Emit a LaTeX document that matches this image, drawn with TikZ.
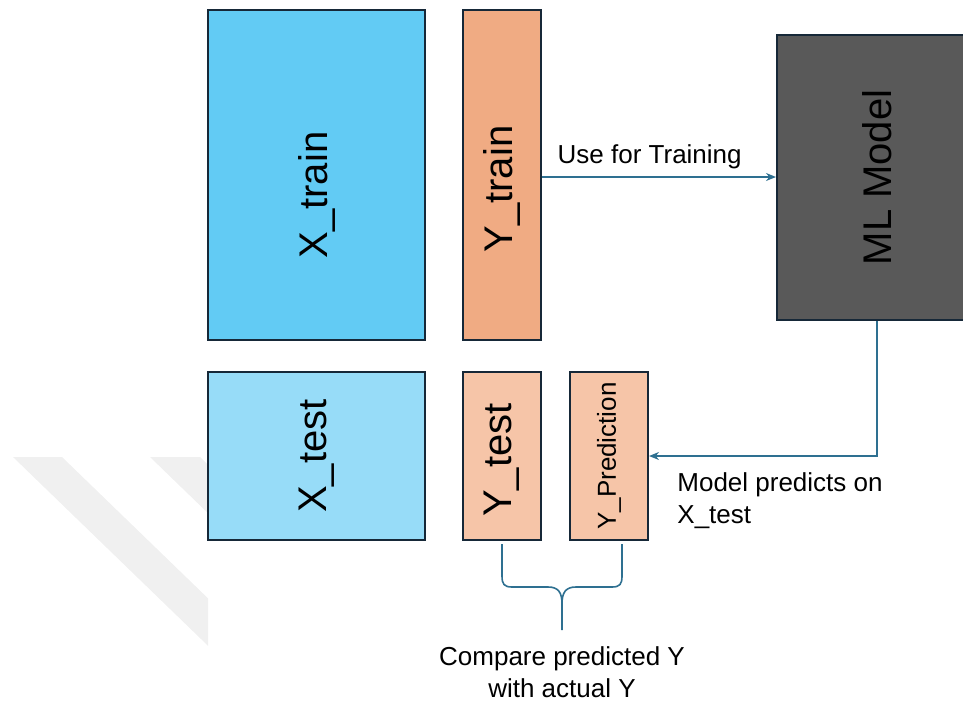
\documentclass[tikz,border=0pt]{standalone}
\usepackage{fontspec}
\setmainfont{Liberation Sans}
\usepackage{tikz}
\usetikzlibrary{positioning, arrows.meta}
\definecolor{dsTrainX}{RGB}{98, 203, 244}
\definecolor{dsTrainY}{RGB}{240, 171, 131}
\definecolor{dsTestX}{RGB}{151, 220, 248}
\definecolor{dsTestY}{RGB}{246, 197, 168}
\definecolor{dsModel}{RGB}{89, 89, 89}
\definecolor{dsEdge}{RGB}{22, 40, 56}
\definecolor{dsFlow}{RGB}{46, 112, 145}
\definecolor{dsMark}{RGB}{240, 240, 240}
\tikzset{
    block/.style={
        rectangle,
        draw=dsEdge,
        line width=1pt,
        inner sep=0pt
    },
    bigtext/.style={
        font=\fontsize{20}{24}\selectfont,
        rotate=90
    },
    smalltext/.style={
        font=\fontsize{13}{15.5}\selectfont,
        rotate=90
    },
    flow/.style={
        -{Stealth[length=5pt, width=4pt]},
        line width=0.8pt,
        color=dsFlow
    },
    note/.style={
        font=\fontsize{13}{16}\selectfont,
        text=black,
        inner sep=0pt
    }
}

\begin{document}
\begin{tikzpicture}[x=0.5pt, y=-0.5pt]
    \useasboundingbox (0,0) rectangle (963,702);

    % Watermark
    \begin{scope}
        \clip (0,440) rectangle (208,702);
        \fill[dsMark] (13,457) -- (62,457) -- (312,699) -- (263,699) -- cycle;
        \fill[dsMark] (150,457) -- (200,457) -- (450,699) -- (400,699) -- cycle;
    \end{scope}

    % Data blocks (label shifts run along the turned text)
    \node[block, fill=dsTrainX, minimum width=108.5pt, minimum height=165pt,
          label={[bigtext, xshift=-10pt]center:X\_train}] (xtrain) at (316.5,175) {};
    \node[block, fill=dsTrainY, minimum width=39pt, minimum height=165pt,
          label={[bigtext, xshift=-7pt]center:Y\_train}] (ytrain) at (502,175) {};
    \node[block, fill=dsTestX, minimum width=108.5pt, minimum height=84pt,
          label={[bigtext]center:X\_test}] (xtest) at (316.5,456) {};
    \node[block, fill=dsTestY, minimum width=39pt, minimum height=84pt,
          label={[bigtext, xshift=-2pt]center:Y\_test}] (ytest) at (502,456) {};
    \node[block, fill=dsTestY, minimum width=39pt, minimum height=84pt,
          label={[smalltext]center:Y\_Prediction}] (ypred) at (609,456) {};

    % Model
    \node[block, fill=dsModel, minimum width=100pt, minimum height=142.5pt,
          label={[bigtext]center:ML Model}] (model) at (877,177.5) {};

    % Arrows
    \draw[flow] (ytrain.east |- 0,177) -- (model.west |- 0,177)
        node[note, pos=0.46, above=3.5pt] {Use for Training};
    \draw[flow] (model.south) |- (ypred.east);
    \node[note, align=left, anchor=north west] (predlbl) at (677,472)
        {Model predicts on\\X\_test};

    % Brace
    \coordinate (tip) at (562,630);
    \draw[dsFlow, line width=0.8pt]
        ([yshift=-1.5pt]ytest.south) -- (502,576)
        .. controls (502,584) and (504,587) .. (512,587)
        -- (548,587)
        .. controls (558,587) and (562,592) .. (562,604)
        -- (tip);
    \draw[dsFlow, line width=0.8pt]
        ([xshift=6.5pt, yshift=-1.5pt]ypred.south) -- (622,576)
        .. controls (622,584) and (620,587) .. (612,587)
        -- (576,587)
        .. controls (566,587) and (562,592) .. (562,604);
    \node[note, align=center, below=8pt of tip] (cmplbl)
        {Compare predicted Y\\with actual Y};
\end{tikzpicture}
\end{document}
